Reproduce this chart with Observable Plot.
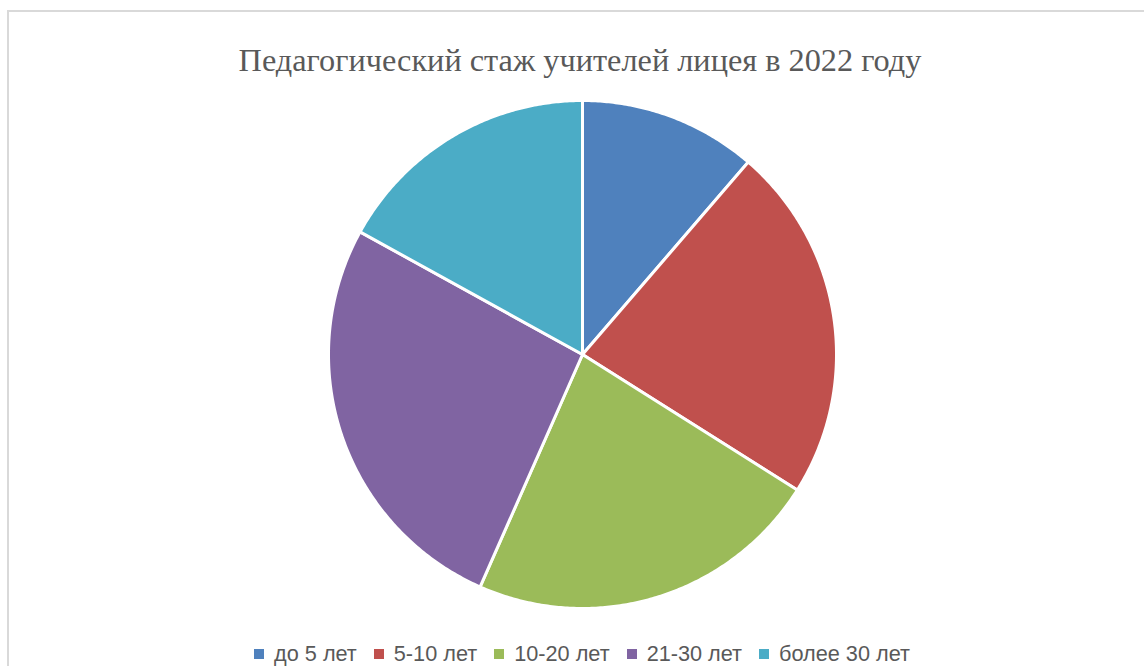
<!DOCTYPE html>
<html><head><meta charset="utf-8">
<script src="https://cdn.jsdelivr.net/npm/d3@7"></script>
<script src="https://cdn.jsdelivr.net/npm/@observablehq/plot@0.6"></script>
<style>
html,body{margin:0;padding:0;background:#fff;}
body{width:1144px;height:666px;overflow:hidden;position:relative;}
#frame{position:absolute;left:7px;top:10px;width:1200px;height:720px;border:2px solid #d9d9d9;box-sizing:border-box;}
#title{position:absolute;left:0;top:44px;width:1160px;text-align:center;font-family:"Liberation Serif","Times New Roman",serif;font-size:32.3px;line-height:32px;color:#595959;white-space:nowrap;}
#chart{position:absolute;left:0;top:89px;}
#legend{position:absolute;left:0;top:643px;width:1164px;display:flex;justify-content:center;align-items:center;font-family:"Liberation Sans",Arial,sans-serif;font-size:21.7px;line-height:22px;color:#595959;white-space:nowrap;}
#legend .item{display:flex;align-items:center;margin:0 8.5px;}
#legend .sw{width:10px;height:10px;margin-right:10px;}
</style>
</head><body>
<div id="frame"></div>
<div id="title"></div>
<div id="chart"></div>
<div id="legend"></div>
<script>
const titleText = "Педагогический стаж учителей лицея в 2022 году";
const categories = ["до 5 лет", "5-10 лет", "10-20 лет", "21-30 лет", "более 30 лет"];
const values = [6, 12, 12, 14, 9];
const colors = ["#4F81BD", "#C0504D", "#9BBB59", "#8064A2", "#4BACC6"];

document.getElementById("title").textContent = titleText;

const arcs = d3.pie().sort(null).value(d => d)(values);
function slicePolygon(a0, a1) {
  const n = Math.max(2, Math.ceil((a1 - a0) / (Math.PI / 360)));
  const ring = [[0, 0]];
  for (let i = 0; i <= n; i++) {
    const a = a0 + (a1 - a0) * i / n;
    ring.push([Math.sin(a), -Math.cos(a)]);
  }
  ring.push([0, 0]);
  return ring;
}
const features = arcs.map((a, i) => ({
  type: "Feature",
  properties: {category: categories[i], value: values[i]},
  geometry: {type: "Polygon", coordinates: [slicePolygon(a.startAngle, a.endAngle)]}
}));

const plot = Plot.plot({
  width: 1144,
  height: 530,
  marginLeft: 20,
  marginRight: 0,
  marginTop: 11,
  marginBottom: 11,
  projection: {type: "identity", domain: {type: "MultiPoint", coordinates: [[-1, -1], [1, 1]]}},
  color: {domain: categories, range: colors},
  marks: [
    Plot.geo(features, {fill: d => d.properties.category, stroke: "#fff", strokeWidth: 3, strokeLinejoin: "round"})
  ]
});
document.getElementById("chart").appendChild(plot);

const colorScale = plot.scale("color");
const legend = document.getElementById("legend");
categories.forEach(c => {
  const item = document.createElement("div");
  item.className = "item";
  const sw = document.createElement("span");
  sw.className = "sw";
  sw.style.background = colorScale.apply(c);
  const t = document.createElement("span");
  t.textContent = c;
  item.appendChild(sw); item.appendChild(t);
  legend.appendChild(item);
});
</script>
</body></html>
